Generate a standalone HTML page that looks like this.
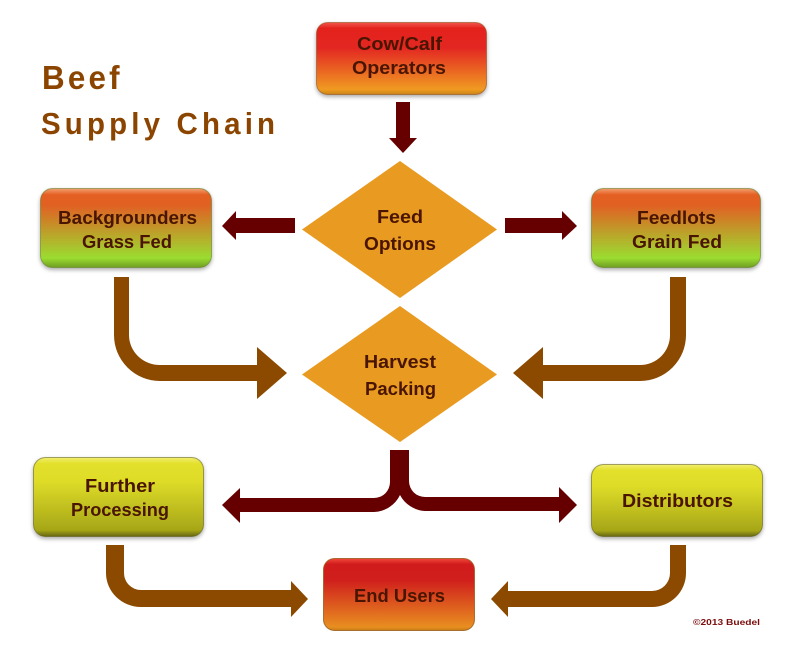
<!DOCTYPE html>
<html><head><meta charset="utf-8"><style>
html,body{margin:0;padding:0;background:#fff;width:800px;height:646px;overflow:hidden}
svg{display:block}
text{font-family:"Liberation Sans",sans-serif;font-weight:bold}
.t{font-size:18px;fill:#4a1500}
</style></head><body>
<svg width="800" height="646" viewBox="0 0 800 646" xmlns="http://www.w3.org/2000/svg">
<defs>
<linearGradient id="r" x1="0" y1="0" x2="0" y2="1"><stop offset="0" stop-color="#f2564a"/><stop offset=".08" stop-color="#e4231f"/><stop offset=".35" stop-color="#e32620"/><stop offset=".93" stop-color="#f09a20"/><stop offset="1" stop-color="#c88418"/></linearGradient>
<linearGradient id="e" x1="0" y1="0" x2="0" y2="1"><stop offset="0" stop-color="#f4483c"/><stop offset=".08" stop-color="#d01c1c"/><stop offset=".3" stop-color="#d01f1c"/><stop offset=".95" stop-color="#e88e20"/><stop offset="1" stop-color="#c87c18"/></linearGradient>
<linearGradient id="g" x1="0" y1="0" x2="0" y2="1"><stop offset="0" stop-color="#f2a070"/><stop offset=".08" stop-color="#e45f22"/><stop offset=".22" stop-color="#e06224"/><stop offset=".88" stop-color="#9bdc30"/><stop offset="1" stop-color="#6f9f24"/></linearGradient>
<linearGradient id="y" x1="0" y1="0" x2="0" y2="1"><stop offset="0" stop-color="#f2ee70"/><stop offset=".08" stop-color="#e2e02a"/><stop offset=".3" stop-color="#dedc28"/><stop offset=".92" stop-color="#a6a618"/><stop offset="1" stop-color="#666610"/></linearGradient>
<filter id="s" x="-10%" y="-10%" width="120%" height="130%"><feGaussianBlur in="SourceAlpha" stdDeviation="2"/><feOffset dy="2"/><feComponentTransfer><feFuncA type="linear" slope=".35"/></feComponentTransfer><feMerge><feMergeNode/><feMergeNode in="SourceGraphic"/></feMerge></filter>
</defs>

<!-- boxes -->
<g filter="url(#s)">
<rect x="316.5" y="22.5" width="170" height="72" rx="11" fill="url(#r)" stroke="#8a4a18" stroke-opacity=".55"/>
<rect x="40.5" y="188.5" width="171" height="79" rx="12" fill="url(#g)" stroke="#5c7a20" stroke-opacity=".55"/>
<rect x="591.5" y="188.5" width="169" height="79" rx="12" fill="url(#g)" stroke="#5c7a20" stroke-opacity=".55"/>
<rect x="33.5" y="457.5" width="170" height="79" rx="12" fill="url(#y)" stroke="#5a5a14" stroke-opacity=".55"/>
<rect x="591.5" y="464.5" width="171" height="72" rx="12" fill="url(#y)" stroke="#5a5a14" stroke-opacity=".55"/>
</g>
<rect x="323.5" y="558.5" width="151" height="72" rx="11" fill="url(#e)" stroke="#9a5a18" stroke-opacity=".8"/>

<!-- diamonds -->
<polygon points="400,161 497,229.5 400,298 302,229.5" fill="#e99a20"/>
<polygon points="400,306 497,374.5 400,442 302,374.5" fill="#e99a20"/>

<!-- dark arrows -->
<g fill="#660000">
<polygon points="396,102 410,102 410,138 417,138 403,153 389,138 396,138"/>
<polygon points="295,218 295,233 236,233 236,240 222,226 236,211 236,218"/>
<polygon points="505,218 505,233 562,233 562,240 577,226 562,211 562,218"/>
<path d="M390,450 H409 V481 A16,16 0 0 0 425,497 H559 V487 L577,505 L559,523 V511 H425 A30,30 0 0 1 400,495 A30,30 0 0 1 374,512 H240 V523 L222,505 L240,488 V498 H374 A16,16 0 0 0 390,482 Z"/>
</g>

<!-- brown arrows -->
<g fill="#8b4a00">
<path d="M114,277 H129 V335 A31,30 0 0 0 160,365 H257 V347 L287,373 L257,399 V381 H160 A46,46 0 0 1 114,335 Z"/>
<path d="M670,277 H686 V335 A46,46 0 0 1 640,381 H543 V399 L513,373 L543,347 V365 H640 A30,30 0 0 0 670,335 Z"/>
<path d="M106,545 H124 V573 A17,17 0 0 0 141,590 H291 V581 L308,599 L291,617 V607 H141 A35,34 0 0 1 106,573 Z"/>
<path d="M670,545 H686 V573 A34,34 0 0 1 652,607 H508 V617 L491,599 L508,581 V591 H652 A18,18 0 0 0 670,573 Z"/>
</g>

<!-- title -->
<text transform="translate(42,89) scale(.95,1)" font-size="33" fill="#8b4500" letter-spacing="3.4">Beef</text>
<text transform="translate(41,134) scale(.95,1)" font-size="31" fill="#8b4500" letter-spacing="4.4">Supply Chain</text>

<!-- labels -->
<text class="t" x="357" y="50" textLength="85" lengthAdjust="spacingAndGlyphs">Cow/Calf</text>
<text class="t" x="352" y="74" textLength="94" lengthAdjust="spacingAndGlyphs">Operators</text>
<text class="t" x="58" y="224" textLength="139" lengthAdjust="spacingAndGlyphs">Backgrounders</text>
<text class="t" x="82" y="248" textLength="90" lengthAdjust="spacingAndGlyphs">Grass Fed</text>
<text class="t" x="637" y="224" textLength="79" lengthAdjust="spacingAndGlyphs">Feedlots</text>
<text class="t" x="632" y="248" textLength="90" lengthAdjust="spacingAndGlyphs">Grain Fed</text>
<text class="t" x="377" y="223" textLength="46" lengthAdjust="spacingAndGlyphs">Feed</text>
<text class="t" x="364" y="250" textLength="72" lengthAdjust="spacingAndGlyphs">Options</text>
<text class="t" x="364" y="368" textLength="72" lengthAdjust="spacingAndGlyphs">Harvest</text>
<text class="t" x="365" y="395" textLength="71" lengthAdjust="spacingAndGlyphs">Packing</text>
<text class="t" x="85" y="492" textLength="70" lengthAdjust="spacingAndGlyphs">Further</text>
<text class="t" x="71" y="516" textLength="98" lengthAdjust="spacingAndGlyphs">Processing</text>
<text class="t" x="622" y="507" textLength="111" lengthAdjust="spacingAndGlyphs">Distributors</text>
<text class="t" x="354" y="602" textLength="91" lengthAdjust="spacingAndGlyphs">End Users</text>
<text x="693" y="625" font-size="8.5" fill="#7a0c0c" textLength="67" lengthAdjust="spacingAndGlyphs">©2013 Buedel</text>
</svg>
</body></html>
